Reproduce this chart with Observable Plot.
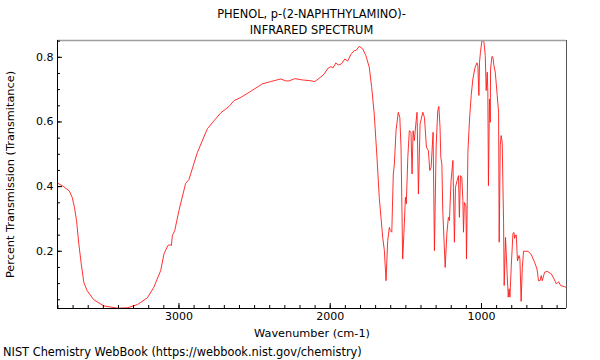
<!DOCTYPE html>
<html><head><meta charset="utf-8">
<script src="https://cdn.jsdelivr.net/npm/d3@7"></script>
<script src="https://cdn.jsdelivr.net/npm/@observablehq/plot@0.6"></script>
<style>
body{margin:0;background:#fff;font-family:"DejaVu Sans",sans-serif;color:#000;}
#wrap{position:relative;width:600px;height:360px;overflow:hidden;background:#fff;}
#title{position:absolute;left:57px;width:509px;top:6px;text-align:center;font-size:11.4px;line-height:16px;}
#chart{position:absolute;left:0;top:36px;}
#chart svg{overflow:visible;}
#caption{position:absolute;left:3px;top:344px;font-size:11.4px;line-height:16px;white-space:nowrap;}
</style></head>
<body>
<div id="wrap">
<div id="title">PHENOL, p-(2-NAPHTHYLAMINO)-<br>INFRARED SPECTRUM</div>
<div id="chart"></div>
<div id="caption">NIST Chemistry WebBook (https://webbook.nist.gov/chemistry)</div>
</div>
<script>
const wavenumber = [3803,3762,3724,3706,3691,3677,3662,3646,3629,3607,3563,3497,3408,3342,3275,3209,3166,3121,3099,3073,3060,3050,3044,3028,3000,2956,2934,2878,2812,2768,2724,2669,2636,2591,2525,2448,2393,2327,2293,2272,2234,2183,2139,2101,2044,2013,1995,1982,1962,1947,1925,1903,1885,1863,1841,1830,1808,1785,1764,1742,1726,1709,1691,1676,1653,1642,1631,1620,1609,1603,1593,1583,1576,1565,1550,1540,1532,1521,1510,1503,1497,1487,1477,1466,1459,1452,1444,1432,1426,1417,1406,1388,1377,1364,1351,1342,1333,1320,1311,1300,1289,1282,1274,1269,1262,1256,1240,1229,1219,1212,1201,1189,1179,1172,1161,1152,1146,1139,1130,1123,1119,1113,1103,1099,1090,1079,1068,1057,1042,1030,1024,1017,1013,1007,997,984,975,969,962,958,954,947,942,940,931,924,918,909,896,887,883,876,870,863,854,850,841,830,823,817,812,803,792,785,781,775,770,762,752,746,738,730,722,693,671,649,633,623,613,605,598,583,565,538,520,505,490,477,454,439];
const transmittance = [0.411,0.400,0.386,0.367,0.336,0.295,0.223,0.161,0.104,0.078,0.050,0.031,0.024,0.025,0.035,0.056,0.089,0.140,0.192,0.218,0.220,0.218,0.248,0.264,0.326,0.410,0.422,0.506,0.579,0.604,0.628,0.648,0.666,0.676,0.695,0.718,0.725,0.733,0.727,0.727,0.734,0.730,0.728,0.725,0.746,0.767,0.771,0.767,0.783,0.776,0.780,0.795,0.788,0.809,0.821,0.821,0.834,0.826,0.805,0.769,0.707,0.625,0.491,0.367,0.243,0.202,0.109,0.233,0.274,0.264,0.259,0.439,0.470,0.573,0.630,0.614,0.522,0.176,0.285,0.367,0.347,0.491,0.573,0.568,0.439,0.573,0.542,0.604,0.630,0.377,0.594,0.630,0.614,0.522,0.511,0.450,0.460,0.568,0.202,0.522,0.635,0.648,0.583,0.491,0.470,0.326,0.150,0.254,0.305,0.295,0.419,0.481,0.228,0.398,0.419,0.434,0.305,0.434,0.429,0.357,0.259,0.351,0.341,0.176,0.506,0.609,0.682,0.733,0.769,0.783,0.774,0.682,0.785,0.815,0.852,0.849,0.805,0.697,0.754,0.692,0.403,0.671,0.599,0.764,0.803,0.800,0.774,0.754,0.682,0.630,0.228,0.527,0.558,0.537,0.290,0.094,0.243,0.125,0.058,0.084,0.058,0.156,0.255,0.258,0.240,0.250,0.250,0.170,0.187,0.176,0.045,0.150,0.200,0.200,0.190,0.166,0.145,0.109,0.109,0.125,0.109,0.135,0.138,0.130,0.114,0.099,0.106,0.094,0.091,0.088];
const xTickValues = [3000, 2000, 1000];
const yTickValues = [0.2, 0.4, 0.6, 0.8];
const xDomain = [3803, 438];
const yDomain = [0.023, 0.852];
const xLabel = "Wavenumber (cm-1)";
const yLabel = "Percent Transmission (Transmitance)";

const data = wavenumber.map((w, i) => ({w, t: transmittance[i]}));
const xMinor = d3.range(500, 3801, 100);
const yMinor = d3.range(1, 18).map(k => k * 0.05);

const chart = Plot.plot({
  width: 600, height: 304,
  marginTop: 4, marginBottom: 32, marginLeft: 57, marginRight: 34,
  style: {fontFamily: "DejaVu Sans", fontSize: "11px", color: "#000", background: "#fff", overflow: "visible"},
  x: {domain: xDomain},
  y: {domain: yDomain},
  marks: [
    Plot.line(data, {x: "w", y: "t", stroke: "#ff1a1a", strokeWidth: 0.9, clip: true}),
    Plot.ruleY([yDomain[1]], {stroke: "#a0a0a0", strokeWidth: 1.5}),
    Plot.ruleX([xDomain[1]], {stroke: "#555555", strokeWidth: 1}),
    Plot.ruleX([xDomain[0]], {stroke: "#000000", strokeWidth: 1}),
    Plot.ruleY([yDomain[0]], {stroke: "#000000", strokeWidth: 1}),
    Plot.axisX({ticks: xMinor, tickSize: -3, tickFormat: () => "", label: null}),
    Plot.axisX({ticks: xTickValues, tickSize: -5, tickFormat: () => "", label: null}),
    Plot.axisX({ticks: xTickValues, tickSize: 0, tickPadding: 4, tickFormat: d => String(d), label: null}),
    Plot.axisY({ticks: yMinor, tickSize: -3, tickFormat: () => "", label: null}),
    Plot.axisY({ticks: yTickValues, tickSize: -5, tickFormat: () => "", label: null}),
    Plot.axisY({ticks: yTickValues, tickSize: 0, tickPadding: 4, tickFormat: d => d.toFixed(1), label: null}),
    Plot.text([xLabel], {frameAnchor: "bottom", dy: 24.5, text: d => d, fontSize: 11.3, textAnchor: "middle", lineAnchor: "middle"}),
    Plot.text([yLabel], {frameAnchor: "left", dx: -47, rotate: -90, text: d => d, fontSize: 11.3, textAnchor: "middle", lineAnchor: "middle"})
  ]
});
document.getElementById("chart").appendChild(chart);
</script>
</body></html>
